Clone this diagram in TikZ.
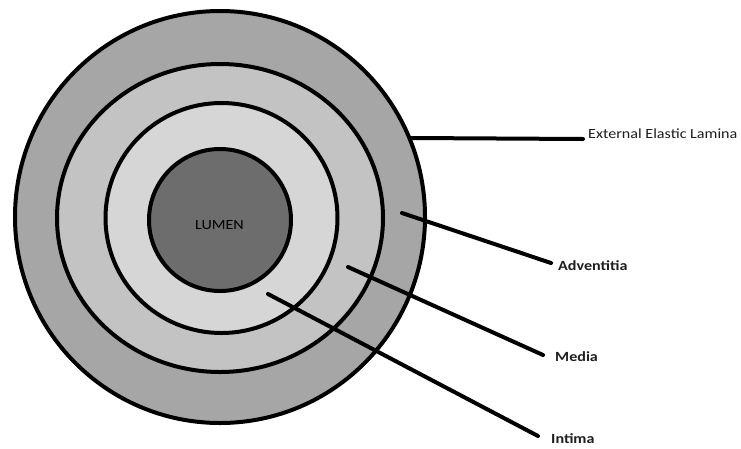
\documentclass[tikz,border=0pt]{standalone}
\usepackage{fontspec}
\setmainfont{Carlito}[FakeStretch=1.15]
\usetikzlibrary{shapes.geometric}
\definecolor{ringA}{HTML}{A6A6A6}
\definecolor{ringB}{HTML}{C3C3C3}
\definecolor{ringC}{HTML}{D6D6D6}
\definecolor{lumenfill}{HTML}{6D6D6D}
\definecolor{txt}{HTML}{1E1E1E}
\tikzset{
  layer/.style={ellipse, draw=black, line width=4pt, inner sep=0pt},
  lbl/.style={anchor=west, inner sep=0pt, text=txt, font=\fontsize{14}{16}\selectfont},
  blbl/.style={lbl, font=\fontsize{14}{16}\selectfont\bfseries},
  leader/.style={draw=black, line width=4pt, line cap=round}
}
\begin{document}
\begin{tikzpicture}[x=1pt, y=-1pt]
\useasboundingbox (0,0) rectangle (741,448);
\fill[white] (0,0) rectangle (741,448);
% layers
\node[layer, fill=ringA, minimum width=410pt, minimum height=412pt] (adv) at (220,217) {};
\node[layer, fill=ringB, minimum width=326pt, minimum height=308pt] (med) at (220,218) {};
\node[layer, fill=ringC, minimum width=232pt, minimum height=230pt] (int) at (221.5,218) {};
\node[layer, fill=lumenfill, minimum width=142pt, minimum height=142pt] (lumen) at (220,220) {};
\node[lbl, anchor=center, text=black] (lumentxt) at (219.5,225) {LUMEN};
% labels
\node[lbl] (eel) at (588,134) {External Elastic Lamina};
\node[blbl] (advl) at (558,266) {Adventitia};
\node[blbl] (medl) at (555,357) {Media};
\node[blbl] (intl) at (551,439) {Intima};
% leader end points
\coordinate (eelA) at (412,138);
\coordinate (eelB) at (583,139);
\coordinate (advA) at (402,213);
\coordinate (advB) at (551,263);
\coordinate (medA) at (348,267);
\coordinate (medB) at (543,355);
\coordinate (intA) at (268,294);
\coordinate (intB) at (538,436);
\draw[leader] (eelA) -- (eelB);
\draw[leader] (advA) -- (advB);
\draw[leader] (medA) -- (medB);
\draw[leader] (intA) -- (intB);
\end{tikzpicture}
\end{document}
